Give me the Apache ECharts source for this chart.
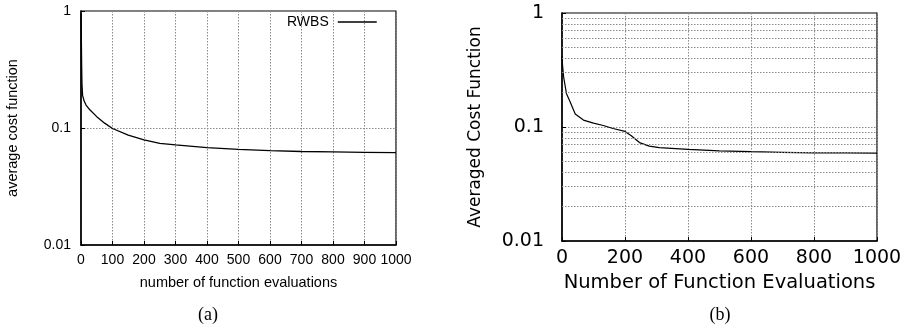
<!DOCTYPE html>
<html>
<head>
<meta charset="utf-8">
<script src="https://cdn.jsdelivr.net/npm/echarts@6/dist/echarts.min.js"></script>
<style>
html,body{margin:0;padding:0;background:#fff;}
#c{width:909px;height:335px;}
</style>
</head>
<body>
<div id="c"></div>
<script>
// ----- data -----
const rwbsX = [0, 1, 2, 3, 5, 10, 16, 28, 50, 75, 100, 150, 200, 250, 300, 400, 500, 600, 700, 800, 900, 1000];
const rwbsY = [0.95, 0.6, 0.35, 0.24, 0.19, 0.17, 0.157, 0.143, 0.125, 0.11, 0.099, 0.087, 0.079, 0.074, 0.0716, 0.068, 0.0657, 0.064, 0.063, 0.0625, 0.062, 0.0615];
const costX = [0, 2, 5, 14, 26, 42, 68, 100, 131, 162, 200, 220, 246, 277, 309, 400, 500, 600, 700, 800, 900, 1000];
const costY = [0.42, 0.34, 0.277, 0.197, 0.166, 0.13, 0.115, 0.108, 0.103, 0.097, 0.0915, 0.0838, 0.073, 0.068, 0.066, 0.0637, 0.0618, 0.0607, 0.06, 0.0594, 0.0592, 0.059];
const yTickLabels = ['0.01', '0.1', '1'];
const minorGridValues = [0.02, 0.03, 0.04, 0.05, 0.06, 0.07, 0.08, 0.09, 0.2, 0.3, 0.4, 0.5, 0.6, 0.7, 0.8, 0.9];
const seriesName = 'RWBS';
const captions = ['(a)', '(b)'];
const titles = {
  ax: 'number of function evaluations', ay: 'average cost function',
  bx: 'Number of Function Evaluations', by: 'Averaged Cost Function'
};

const sans = 'Liberation Sans, Arial, Helvetica, sans-serif';
const wide = 'DejaVu Sans, Verdana, sans-serif';
const serif = 'Liberation Serif, Times New Roman, serif';
const gridLine = { show: true, lineStyle: { color: '#8a8a8a', type: [1.5, 1.5], width: 1 } };

function logFmt(v) {
  for (const s of yTickLabels) {
    if (Math.abs(v - parseFloat(s)) < 1e-9) return s;
  }
  return '';
}
const numFmt = v => String(v);

const chart = echarts.init(document.getElementById('c'), null, { renderer: 'canvas' });
chart.setOption({
  backgroundColor: '#fff',
  animation: false,
  title: [
    { text: captions[0], left: 208, top: 306, textAlign: 'center', padding: 0, textStyle: { fontFamily: serif, fontSize: 18, fontWeight: 'normal', color: '#000' } },
    { text: captions[1], left: 720, top: 306, textAlign: 'center', padding: 0, textStyle: { fontFamily: serif, fontSize: 18, fontWeight: 'normal', color: '#000' } }
  ],
  legend: {
    data: [seriesName],
    left: 287, top: 15, padding: 0,
    align: 'right',
    icon: 'rect',
    itemWidth: 39, itemHeight: 1.3,
    textStyle: { fontFamily: sans, fontSize: 14, color: '#000', padding: [0, 4, 0, 0] }
  },
  grid: [
    { left: 81, top: 11, width: 315, height: 234, show: true, borderColor: '#000', borderWidth: 1.2, backgroundColor: 'transparent' },
    { left: 562, top: 13, width: 315, height: 228, show: true, borderColor: '#000', borderWidth: 1.2, backgroundColor: 'transparent' }
  ],
  xAxis: [
    {
      gridIndex: 0, type: 'value', min: 0, max: 1000, interval: 100,
      name: titles.ax, nameLocation: 'middle', nameGap: 30,
      nameTextStyle: { fontFamily: sans, fontSize: 14.5, color: '#000' },
      axisLine: { show: true, lineStyle: { color: '#000', width: 1.5 } },
      axisTick: { show: true, inside: true, length: 4, lineStyle: { color: '#000' } },
      axisLabel: { fontFamily: sans, fontSize: 14, color: '#000', margin: 8, formatter: numFmt },
      splitLine: gridLine
    },
    {
      gridIndex: 1, type: 'value', min: 0, max: 1000, interval: 200,
      name: titles.bx, nameLocation: 'middle', nameGap: 27,
      nameTextStyle: { fontFamily: wide, fontSize: 19.5, color: '#000' },
      axisLine: { show: true, lineStyle: { color: '#000', width: 1.5 } },
      axisTick: { show: true, inside: true, length: 4, lineStyle: { color: '#000' } },
      axisLabel: { fontFamily: wide, fontSize: 19, color: '#000', margin: 8, formatter: numFmt },
      splitLine: gridLine
    }
  ],
  yAxis: [
    {
      gridIndex: 0, type: 'log', logBase: 10, min: 0.01, max: 1,
      name: titles.ay, nameLocation: 'middle', nameGap: 61,
      nameTextStyle: { fontFamily: sans, fontSize: 14.5, color: '#000' },
      axisLine: { show: true, lineStyle: { color: '#000', width: 1.5 } },
      axisTick: { show: true, inside: true, length: 4, lineStyle: { color: '#000' } },
      axisLabel: { fontFamily: sans, fontSize: 14, color: '#000', margin: 10, formatter: logFmt },
      splitLine: gridLine
    },
    {
      gridIndex: 1, type: 'log', logBase: 10, min: 0.01, max: 1,
      name: titles.by, nameLocation: 'middle', nameGap: 78,
      nameTextStyle: { fontFamily: wide, fontSize: 17, color: '#000' },
      axisLine: { show: true, lineStyle: { color: '#000', width: 1.5 } },
      axisTick: { show: true, inside: true, length: 4, lineStyle: { color: '#000' } },
      axisLabel: { fontFamily: wide, fontSize: 19, color: '#000', margin: 18, formatter: logFmt },
      splitLine: gridLine
    }
  ],
  series: [
    {
      name: seriesName, type: 'line', xAxisIndex: 0, yAxisIndex: 0,
      data: rwbsX.map((x, i) => [x, rwbsY[i]]),
      symbol: 'none', smooth: false,
      lineStyle: { color: '#000', width: 1.3 }, itemStyle: { color: '#000' }
    },
    {
      name: 'cost', type: 'line', xAxisIndex: 1, yAxisIndex: 1,
      data: costX.map((x, i) => [x, costY[i]]),
      symbol: 'none', smooth: false,
      lineStyle: { color: '#000', width: 1.2 }, itemStyle: { color: '#000' },
      markLine: {
        silent: true, symbol: 'none', animation: false,
        label: { show: false },
        lineStyle: { color: '#8a8a8a', type: [1.5, 1.5], width: 1 },
        data: minorGridValues.map(v => ({ yAxis: v }))
      }
    }
  ]
});
</script>
</body>
</html>
